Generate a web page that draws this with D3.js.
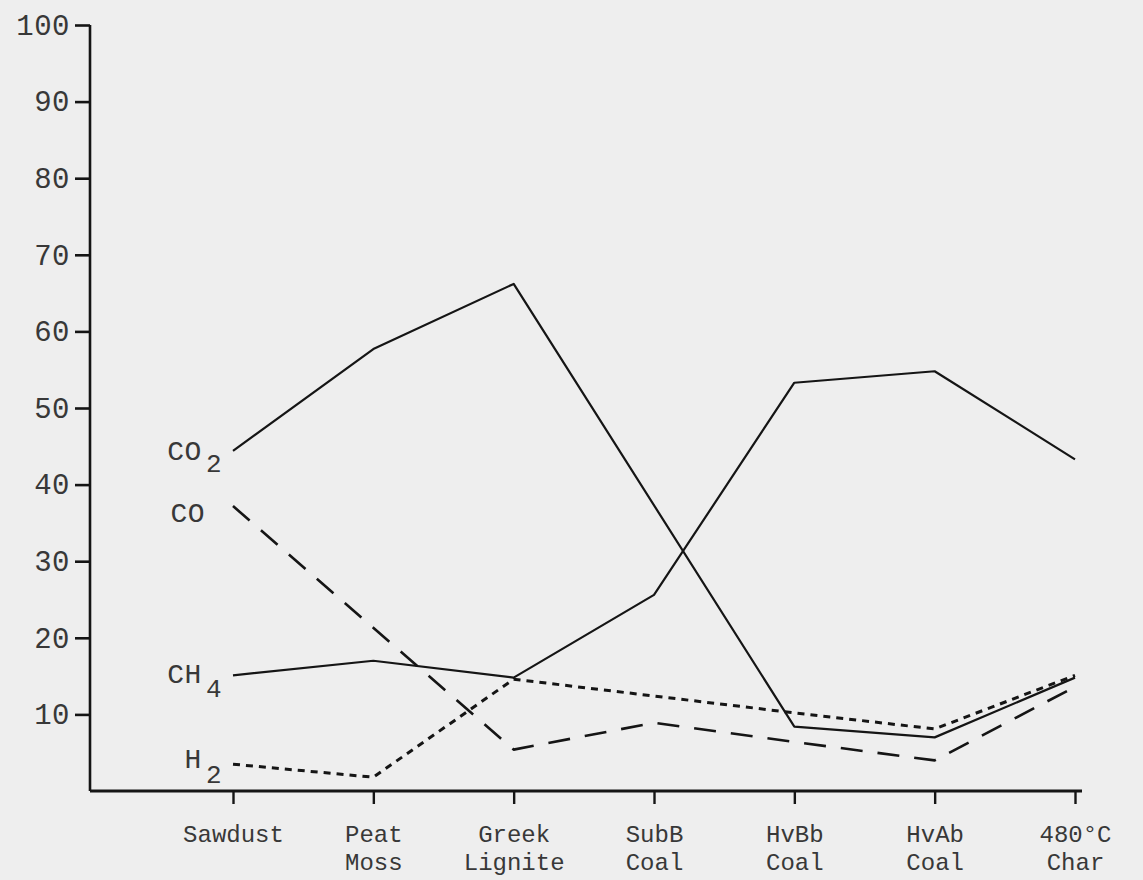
<!DOCTYPE html>
<html>
<head>
<meta charset="utf-8">
<script src="https://cdn.jsdelivr.net/npm/d3@7"></script>
<style>
  html, body { margin: 0; padding: 0; background: #eeeeee; }
  svg { display: block; }
</style>
</head>
<body>
<div id="chart"></div>
<script>
// ---------------- DATA ----------------
const categories = ["Sawdust", "Peat Moss", "Greek Lignite", "SubB Coal", "HvBb Coal", "HvAb Coal", "480°C Char"];
const yTickValues = [10, 20, 30, 40, 50, 60, 70, 80, 90, 100];

const co2Values = [44.4, 57.7, 66.2, null, 8.4, 7.0, 14.8];
const ch4Values = [15.1, 17.0, 14.8, 25.6, 53.3, 54.8, 43.3];
const coValues  = [37.2, null, 5.4, 8.9, 6.4, 4.0, 13.6];
const h2Values  = [3.5, 1.8, 14.6, 12.4, 10.2, 8.1, 15.1];

const seriesNames = ["CO2", "CH4", "CO", "H2"];
// label main text / subscript
const labelMain = ["CO", "CH", "CO", "H"];
const labelSub  = ["2", "4", "", "2"];

// ---------------- LAYOUT / STYLE ----------------
const W = 1143, H = 880;
const axisX = 90, axisRight = 1082;
const plotTop = 25, plotBottom = 791;
const firstCatX = 233, lastCatX = 1075;

const styles = {
  CO2: { dash: null, width: 2.2, lab: { dx: -11, dy: 9, subDy: 12 } },
  CH4: { dash: null, width: 2.2, lab: { dx: -11, dy: 8, subDy: 14 } },
  CO:  { dash: "22,15", width: 2.6, lab: { dx: -28, dy: 16, subDy: 0 } },
  H2:  { dash: "7,6", width: 3, lab: { dx: -11, dy: 4, subDy: 15 } }
};
const valuesByName = { CO2: co2Values, CH4: ch4Values, CO: coValues, H2: h2Values };

const svg = d3.select("#chart").append("svg")
  .attr("width", W).attr("height", H)
  .style("background", "#eeeeee");

const x = d3.scalePoint().domain(categories).range([firstCatX, lastCatX]);
const y = d3.scaleLinear().domain([0, 100]).range([plotBottom, plotTop]);

const monoFont = "'Liberation Mono', 'DejaVu Sans Mono', monospace";
const ink = "#151515";
const textInk = "#383838";

// ---------------- Y AXIS ----------------
const yAxis = svg.append("g")
  .attr("transform", `translate(${axisX},0)`)
  .call(d3.axisLeft(y).tickValues(yTickValues).tickSize(15).tickPadding(5).tickSizeOuter(0));
yAxis.select(".domain").attr("stroke", ink).attr("stroke-width", 2.6)
  .attr("d", `M0,${plotTop}V${plotBottom}`);
yAxis.selectAll(".tick line").attr("stroke", ink).attr("stroke-width", 2.6);
yAxis.selectAll(".tick text")
  .attr("fill", textInk)
  .style("font-family", monoFont)
  .style("font-size", "29px")
  .style("letter-spacing", "0.5px");

// ---------------- X AXIS ----------------
const xAxis = svg.append("g")
  .attr("transform", `translate(0,${y(0)})`)
  .call(d3.axisBottom(x).tickSize(13).tickSizeOuter(0));
xAxis.select(".domain").attr("stroke", ink).attr("stroke-width", 2.8)
  .attr("d", `M${axisX},0H${axisRight}`);
xAxis.selectAll(".tick line").attr("stroke", ink).attr("stroke-width", 2.4);
xAxis.selectAll(".tick text").remove();
xAxis.selectAll(".tick").each(function(d) {
  const parts = d.split(" ");
  const g = d3.select(this);
  parts.forEach((p, i) => {
    g.append("text")
      .attr("fill", textInk)
      .attr("text-anchor", "middle")
      .attr("x", 0)
      .attr("y", 51 + i * 28)
      .style("font-family", monoFont)
      .style("font-size", "24px")
      .text(p);
  });
});

// ---------------- LINES ----------------
const line = d3.line()
  .x(d => x(d.cat))
  .y(d => y(d.v));

seriesNames.forEach((name, si) => {
  const vals = valuesByName[name];
  const pts = categories.map((c, i) => ({ cat: c, v: vals[i] })).filter(d => d.v !== null);
  const st = styles[name];
  svg.append("path")
    .datum(pts)
    .attr("fill", "none")
    .attr("stroke", ink)
    .attr("stroke-width", st.width)
    .attr("stroke-linejoin", "round")
    .attr("stroke-dasharray", st.dash)
    .attr("d", line);

  // series label near first point
  const p0 = pts[0];
  const t = svg.append("text")
    .attr("x", x(p0.cat) + st.lab.dx)
    .attr("y", y(p0.v) + st.lab.dy)
    .attr("text-anchor", "end")
    .attr("fill", textInk)
    .style("font-family", monoFont)
    .style("font-size", "28px")
    .style("letter-spacing", "0.5px");
  t.append("tspan").text(labelMain[si]);
  if (labelSub[si]) {
    t.append("tspan").attr("dy", st.lab.subDy).attr("dx", 4)
      .style("font-size", "26px").text(labelSub[si]);
  }
});
</script>
</body>
</html>
